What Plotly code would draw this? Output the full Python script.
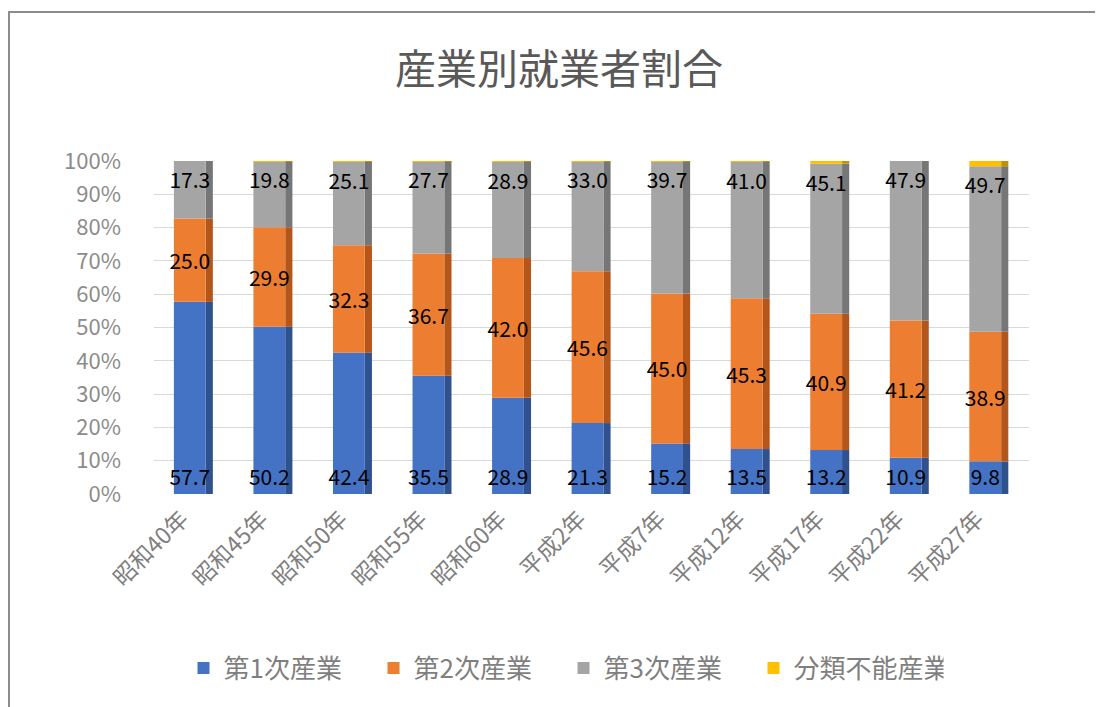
import plotly.graph_objects as go

categories = ["昭和40年", "昭和45年", "昭和50年", "昭和55年", "昭和60年",
              "平成2年", "平成7年", "平成12年", "平成17年", "平成22年", "平成27年"]
primary = [57.7, 50.2, 42.4, 35.5, 28.9, 21.3, 15.2, 13.5, 13.2, 10.9, 9.8]
secondary = [25.0, 29.9, 32.3, 36.7, 42.0, 45.6, 45.0, 45.3, 40.9, 41.2, 38.9]
tertiary = [17.3, 19.8, 25.1, 27.7, 28.9, 33.0, 39.7, 41.0, 45.1, 47.9, 49.7]
unclassified = [0.0, 0.1, 0.2, 0.1, 0.2, 0.1, 0.1, 0.2, 0.8, 0.0, 1.6]
y_ticks = list(range(0, 101, 10))
y_tick_labels = [f"{t}%" for t in y_ticks]

series = [
    ("第1次産業", primary, "#4472C4", "#2F528F", "start"),
    ("第2次産業", secondary, "#ED7D31", "#B4561A", "middle"),
    ("第3次産業", tertiary, "#A5A5A5", "#767676", "end"),
    ("分類不能産業", unclassified, "#FFC000", "#BF9000", None),
]

fig = go.Figure()
base = [0.0] * len(categories)
for name, vals, col, dark, anchor in series:
    # side face (pseudo-3D)
    fig.add_trace(go.Bar(
        x=categories, y=vals, base=base, marker_color=dark, width=0.09, offset=0.15,
        showlegend=False, hoverinfo="skip", marker_line_width=0))
    # front face
    kw = {}
    if anchor:
        kw = dict(text=[f"{v:.1f}" for v in vals], textposition="inside",
                  insidetextanchor=anchor, constraintext="none", textangle=0,
                  textfont=dict(color="black", size=21, family="Noto Sans CJK JP"))
    fig.add_trace(go.Bar(
        x=categories, y=vals, base=base, name=name, marker_color=col, width=0.40,
        offset=-0.25, marker_line_width=0, **kw))
    base = [b + v for b, v in zip(base, vals)]

OFF = 8  # page body margin
ml, mr, mt, mb = 146, 82, 153, 221
W, H = 1103, 707
pw, ph = W - ml - mr, H - mt - mb

def px_x(p):
    return (p - OFF - ml) / pw

def px_y(p):
    return 1 - (p - OFF - mt) / ph

fig.update_layout(
    width=W, height=H,
    barmode="overlay",
    paper_bgcolor="white", plot_bgcolor="white",
    margin=dict(l=ml, r=mr, t=mt, b=mb),
    font=dict(family="Noto Sans CJK JP", color="#7F7F7F"),
    title=dict(text="産業別就業者割合", x=0.4995, xanchor="center",
               y=1 - (70 - OFF) / H, yanchor="middle",
               font=dict(size=41, color="#595959", family="Noto Sans CJK JP")),
    xaxis=dict(tickangle=-45, tickfont=dict(size=23, color="#7F7F7F"),
               showgrid=False, showline=False, ticks="", range=[-0.5, 10.5],
               ticklabelshift=-12, ticklabelstandoff=6),
    yaxis=dict(range=[0, 100], tickmode="array", tickvals=y_ticks, ticktext=y_tick_labels,
               tickfont=dict(size=22, color="#8C8C8C"), gridcolor="#D9D9D9",
               gridwidth=1, zeroline=False, showline=False, ticklabelstandoff=32),
    legend=dict(orientation="h", x=0.468, xanchor="center", y=px_y(668), yanchor="middle",
                font=dict(size=26, color="#7F7F7F"), traceorder="normal",
                itemsizing="constant", entrywidth=145, entrywidthmode="pixels"),
    shapes=[dict(type="rect", xref="paper", yref="paper",
                 x0=px_x(OFF + 1), x1=px_x(1101), y0=px_y(720), y1=px_y(12),
                 line=dict(color="#8C8C8C", width=2), layer="below")],
)

fig.write_html("out.html")
